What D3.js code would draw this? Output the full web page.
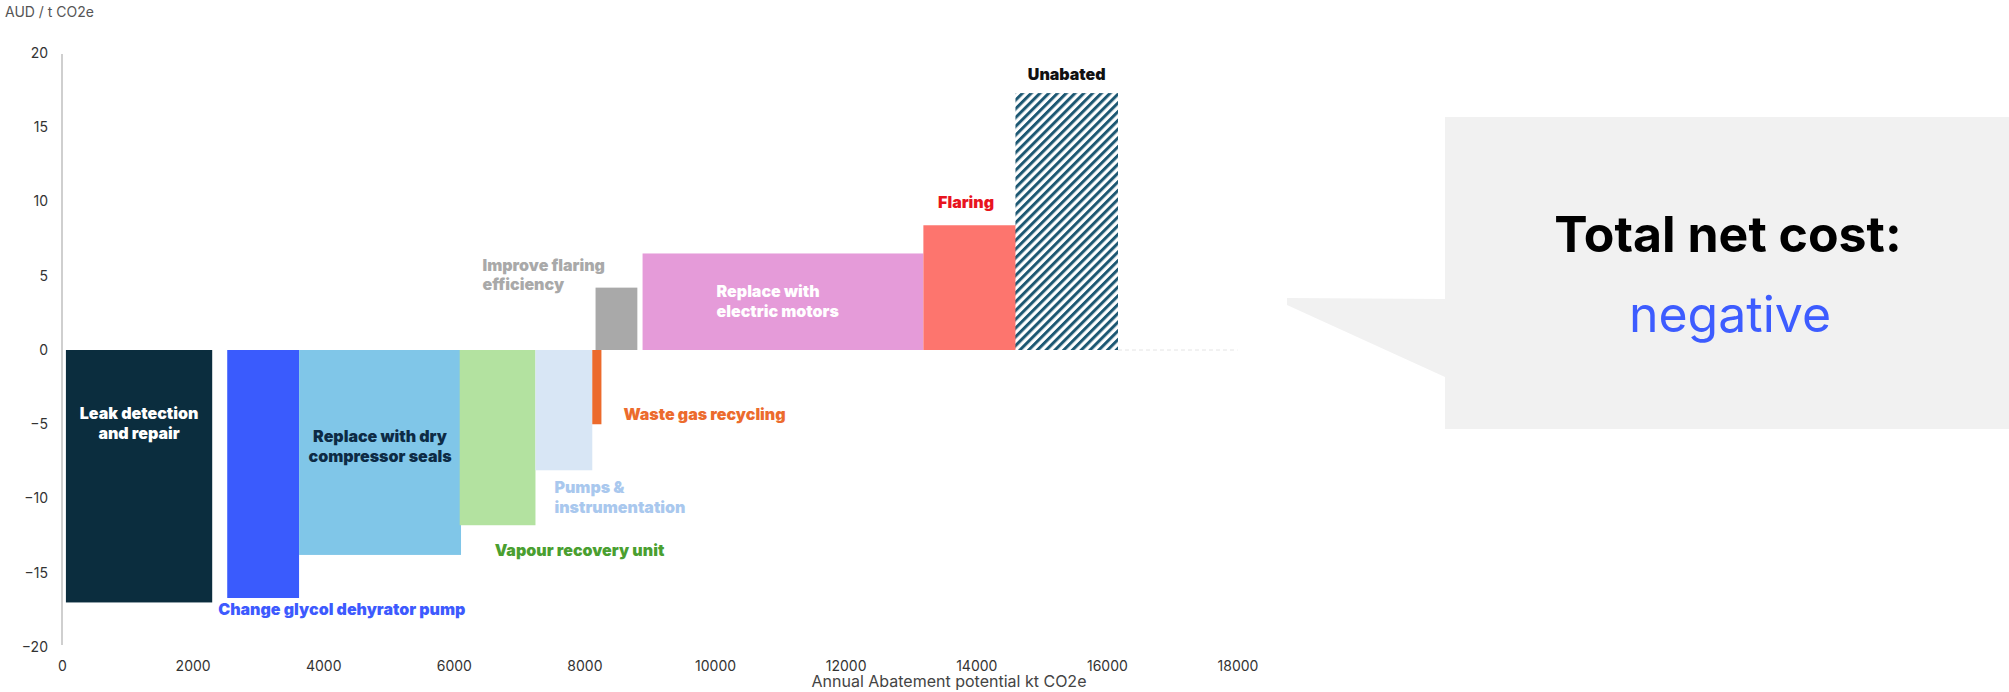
<!DOCTYPE html>
<html>
<head>
<meta charset="utf-8">
<script src="https://cdn.jsdelivr.net/npm/d3@7"></script>
<style>
  html, body { margin: 0; padding: 0; background: #fff; }
  svg { display: block; font-family: Inter, "Open Sans", sans-serif; }
</style>
</head>
<body>
<div id="chart"></div>
<script>
// marginal abatement cost curve
var categories = [
  "Leak detection and repair",
  "Change glycol dehyrator pump",
  "Replace with dry compressor seals",
  "Vapour recovery unit",
  "Pumps & instrumentation",
  "Waste gas recycling",
  "Improve flaring efficiency",
  "Replace with electric motors",
  "Flaring",
  "Unabated"
];
// bar label text, split into lines
var labelLines = [
  ["Leak detection", "and repair"],
  ["Change glycol dehyrator pump"],
  ["Replace with dry", "compressor seals"],
  ["Vapour recovery unit"],
  ["Pumps &", "instrumentation"],
  ["Waste gas recycling"],
  ["Improve flaring", "efficiency"],
  ["Replace with", "electric motors"],
  ["Flaring"],
  ["Unabated"]
];
// abatement range in kt CO2e (start / end of each bar)
var startKt = [60, 2530, 3630, 6090, 7250, 8120, 8170, 8890, 13190, 14600];
var endKt   = [2300, 3630, 6110, 7250, 8120, 8260, 8810, 13190, 14620, 16170];
// cost in AUD / t CO2e
var costAUD = [-17.0, -16.7, -13.8, -11.8, -8.1, -5.0, 4.2, 6.5, 8.4, 17.3];

var xTicks = [0, 2000, 4000, 6000, 8000, 10000, 12000, 14000, 16000, 18000];
var yTicks = [-20, -15, -10, -5, 0, 5, 10, 15, 20];

var calloutTitle = "Total net cost:";
var calloutValue = "negative";

var barFill = ["#0b2d3e", "#3a5bfd", "#80c6e8", "#b3e2a0", "#d8e6f5", "#ec6a2c", "#a9a9a9", "#e59bd9", "#fd756e", "url(#hatch)"];
var labelFill = ["#ffffff", "#3d5afe", "#0d2b45", "#4a9f30", "#a9c8ee", "#ec6b2d", "#a9a9a9", "#ffffff", "#e8141e", "#111111"];
// where each label sits relative to its bar: [anchor, x ref, dx, y ref, dy]
var labelPos = [
  ["middle", "center", 0, "zero", 69],
  ["start", "left", -9, "end", 17],
  ["middle", "center", 0, "zero", 92],
  ["start", "left", 35, "end", 31],
  ["start", "left", 19, "end", 23],
  ["start", "right", 22, "zero", 70],
  ["start", "left", -113, "end", -17],
  ["start", "left", 74, "zero", -53],
  ["middle", "center", -4, "end", -17],
  ["middle", "center", 0, "end", -13]
];

var width = 2009, height = 692;

var svg = d3.select("#chart").append("svg")
  .attr("width", width)
  .attr("height", height);

var defs = svg.append("defs");
var hatch = defs.append("pattern")
  .attr("id", "hatch")
  .attr("patternUnits", "userSpaceOnUse")
  .attr("width", 6.2)
  .attr("height", 6.2)
  .attr("patternTransform", "rotate(45)");
hatch.append("rect").attr("width", 6.2).attr("height", 6.2).attr("fill", "#fff");
hatch.append("rect").attr("width", 3).attr("height", 6.2).attr("fill", "#1d5873");

var x = d3.scaleLinear().domain([0, 18000]).range([62, 1237.5]);
var y = d3.scaleLinear().domain([-20, 20]).range([647, 53]);

// y axis
var yAxis = svg.append("g")
  .attr("transform", "translate(62,0)")
  .call(d3.axisLeft(y).tickValues(yTicks).tickSize(0).tickPadding(14).tickFormat(d3.format("d")));
yAxis.select(".domain").remove();
yAxis.selectAll("text")
  .style("font-size", "14px")
  .style("font-family", "Inter, sans-serif")
  .attr("fill", "#333");
svg.append("line")
  .attr("x1", 62).attr("x2", 62)
  .attr("y1", 54).attr("y2", 645)
  .attr("stroke", "#cfcfcf")
  .attr("stroke-width", 2);

// x axis
var xAxis = svg.append("g")
  .attr("transform", "translate(0,647)")
  .call(d3.axisBottom(x).tickValues(xTicks).tickSize(0).tickPadding(14).tickFormat(d3.format("d")));
xAxis.select(".domain").remove();
xAxis.selectAll("text")
  .style("font-size", "14px")
  .style("font-family", "Inter, sans-serif")
  .attr("fill", "#333");

svg.append("text")
  .attr("x", 5).attr("y", 17)
  .style("font-size", "14px")
  .attr("fill", "#555")
  .text("AUD / t CO2e");

svg.append("text")
  .attr("x", 949).attr("y", 687)
  .attr("text-anchor", "middle")
  .style("font-size", "16px")
  .attr("fill", "#444")
  .text("Annual Abatement potential kt CO2e");

// faint zero line after the last bar
svg.append("line")
  .attr("x1", x(endKt[endKt.length - 1])).attr("x2", x(18000))
  .attr("y1", y(0)).attr("y2", y(0))
  .attr("stroke", "#e4e4e4")
  .attr("stroke-dasharray", "4,3");

var bars = categories.map(function(c, i) {
  return {name: c, x0: startKt[i], x1: endKt[i], v: costAUD[i], lines: labelLines[i], i: i};
});

svg.selectAll(".bar")
  .data(bars)
  .enter().append("rect")
  .attr("class", "bar")
  .attr("x", function(d) { return x(d.x0); })
  .attr("width", function(d) { return x(d.x1) - x(d.x0); })
  .attr("y", function(d) { return Math.min(y(d.v), y(0)); })
  .attr("height", function(d) { return Math.abs(y(d.v) - y(0)); })
  .attr("fill", function(d) { return barFill[d.i]; });

var labels = svg.selectAll(".lbl")
  .data(bars)
  .enter().append("text")
  .attr("class", "lbl")
  .attr("text-anchor", function(d) { return labelPos[d.i][0]; })
  .attr("fill", function(d) { return labelFill[d.i]; })
  .style("font-size", "16px")
  .style("font-weight", 900)
  .style("letter-spacing", "0px")
  .attr("transform", function(d) {
    var p = labelPos[d.i];
    var lx = p[1] == "center" ? (x(d.x0) + x(d.x1)) / 2 : (p[1] == "left" ? x(d.x0) : x(d.x1));
    var ly = p[3] == "zero" ? y(0) : y(d.v);
    return "translate(" + (lx + p[2]) + "," + (ly + p[4]) + ")";
  });

labels.selectAll("tspan")
  .data(function(d) { return d.lines; })
  .enter().append("tspan")
  .attr("x", 0)
  .attr("y", function(d, k) { return k * 19.5; })
  .text(function(d) { return d; });

// callout box with pointer
var callout = d3.path();
callout.moveTo(1445, 117);
callout.lineTo(2009, 117);
callout.lineTo(2009, 429);
callout.lineTo(1445, 429);
callout.lineTo(1445, 377);
callout.lineTo(1287, 305);
callout.lineTo(1287, 298);
callout.lineTo(1445, 299);
callout.closePath();
svg.append("path")
  .attr("d", callout.toString())
  .attr("fill", "#f1f1f1");

svg.append("text")
  .attr("x", 1728).attr("y", 252)
  .attr("text-anchor", "middle")
  .style("font-size", "50px")
  .style("font-weight", 700)
  .attr("fill", "#000")
  .text(calloutTitle);

svg.append("text")
  .attr("x", 1730).attr("y", 332)
  .attr("text-anchor", "middle")
  .style("font-size", "50px")
  .attr("fill", "#3d5cff")
  .text(calloutValue);
</script>
</body>
</html>
